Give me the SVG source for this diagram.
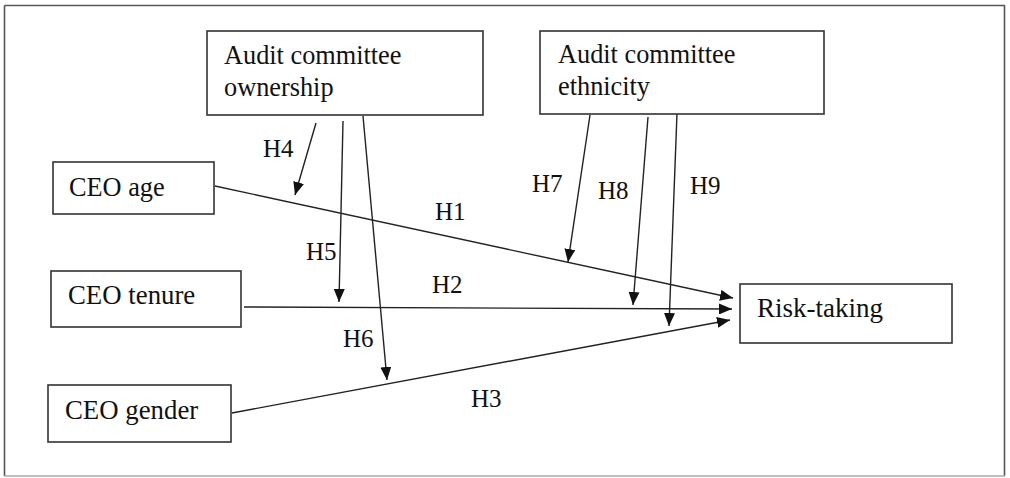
<svg xmlns="http://www.w3.org/2000/svg" width="1010" height="478" viewBox="0 0 1010 478">
<style>
.box{fill:#fff;stroke:#333;stroke-width:1.6}
.c{stroke:#222;stroke-width:1.4;fill:none;marker-end:url(#ah)}
</style>
<defs>
<marker id="ah" markerUnits="userSpaceOnUse" markerWidth="13" markerHeight="11" refX="13" refY="5.5" orient="auto" viewBox="0 0 13 11">
<path d="M0,0 L13,5.5 L0,11 z" fill="#111"/>
</marker>
</defs>
<rect width="1010" height="478" fill="#fff"/>
<g id="frame" stroke-width="1.6">
<line x1="4.5" y1="5.5" x2="1005" y2="5.5" stroke="#555"/>
<line x1="4.5" y1="5.5" x2="4.5" y2="476" stroke="#555"/>
<line x1="1004.5" y1="5.5" x2="1004.5" y2="476" stroke="#555"/>
<line x1="4.5" y1="476" x2="1005" y2="476" stroke="#aaa"/>
</g>
<g id="connectors">
<line class="c" x1="215" y1="186" x2="733" y2="298"/>
<line class="c" x1="244" y1="307" x2="732" y2="309"/>
<line class="c" x1="232" y1="413" x2="730" y2="320"/>
<line class="c" x1="316" y1="123" x2="295" y2="195"/>
<line class="c" x1="343" y1="121" x2="339" y2="302"/>
<line class="c" x1="363" y1="116" x2="387" y2="380"/>
<line class="c" x1="590" y1="115" x2="568" y2="262"/>
<line class="c" x1="648" y1="117" x2="633" y2="305"/>
<line class="c" x1="677" y1="113" x2="669" y2="326"/>
</g>
<g id="labels">
<text x="263" y="157" font-family="Liberation Serif" font-size="25" fill="#111">H4</text>
<text x="435" y="220" font-family="Liberation Serif" font-size="25" fill="#111">H1</text>
<text x="306" y="260" font-family="Liberation Serif" font-size="25" fill="#111">H5</text>
<text x="432" y="293" font-family="Liberation Serif" font-size="25" fill="#111">H2</text>
<text x="343" y="347" font-family="Liberation Serif" font-size="25" fill="#111">H6</text>
<text x="471" y="407" font-family="Liberation Serif" font-size="25" fill="#111">H3</text>
<text x="532" y="192" font-family="Liberation Serif" font-size="25" fill="#111">H7</text>
<text x="598" y="199" font-family="Liberation Serif" font-size="25" fill="#111">H8</text>
<text x="690" y="194" font-family="Liberation Serif" font-size="25" fill="#111">H9</text>
</g>
<g id="node-ownership">
<rect class="box" x="207" y="31" width="276" height="84"/>
<text x="224" y="64" font-family="Liberation Serif" font-size="26.3" fill="#111">Audit committee</text>
<text x="224" y="96" font-family="Liberation Serif" font-size="26.3" fill="#111">ownership</text>
</g>
<g id="node-ethnicity">
<rect class="box" x="540" y="31" width="284" height="83"/>
<text x="558" y="63" font-family="Liberation Serif" font-size="26.3" fill="#111">Audit committee</text>
<text x="558" y="95" font-family="Liberation Serif" font-size="26.3" fill="#111">ethnicity</text>
</g>
<g id="node-age">
<rect class="box" x="53" y="162" width="161" height="52"/>
<text x="69" y="196" font-family="Liberation Serif" font-size="26.3" fill="#111">CEO age</text>
</g>
<g id="node-tenure">
<rect class="box" x="51" y="271" width="190" height="56"/>
<text x="68" y="304" font-family="Liberation Serif" font-size="26.8" fill="#111">CEO tenure</text>
</g>
<g id="node-gender">
<rect class="box" x="48" y="385" width="183" height="57"/>
<text x="65" y="419" font-family="Liberation Serif" font-size="26.8" fill="#111">CEO gender</text>
</g>
<g id="node-risk">
<rect class="box" x="740" y="284" width="212" height="59"/>
<text x="757" y="317" font-family="Liberation Serif" font-size="27" fill="#111">Risk-taking</text>
</g>
</svg>
